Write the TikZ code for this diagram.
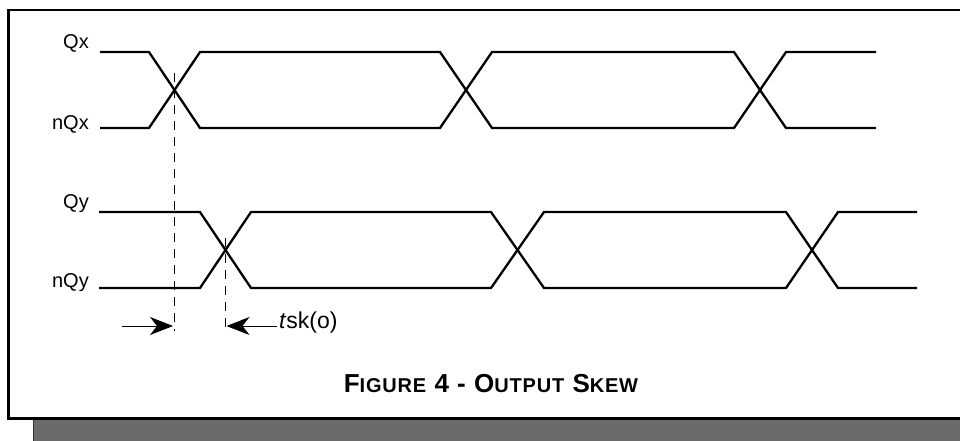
\documentclass[tikz,border=0pt]{standalone}
\usepackage{fontspec}
\setmainfont{Liberation Sans}
\newfontfamily\capfont[LetterSpace=4]{Liberation Sans}
\usetikzlibrary{arrows.meta}
\definecolor{bandgray}{RGB}{107,107,107}
\newcommand{\capsz}[1]{{\fontsize{26}{26}\selectfont #1}}
\newcommand{\smsz}[1]{{\fontsize{20}{20}\selectfont #1}}
\tikzset{
  sig/.style={line width=2.3pt, line join=miter},
  guide/.style={line width=0.9pt, dash pattern=on 9pt off 7pt},
  skarrow/.style={line width=0.9pt, -{Stealth[length=23pt,width=18pt,inset=7pt]}},
  lbl/.style={font=\fontsize{20}{20}\selectfont, inner sep=0pt, anchor=base east},
  frameline/.style={line width=2.2pt}
}
\begin{document}
\begin{tikzpicture}[x=1pt,y=-1pt]
\useasboundingbox (0,0) rectangle (960,440);
% frame and shadow band
\fill[bandgray, draw=black!80, line width=0.8pt] (33,419) rectangle (962,442);
\coordinate (ftr) at (962,10);
\coordinate (ftl) at (8.5,10);
\coordinate (fbl) at (8.5,418.5);
\coordinate (fbr) at (962,418.5);
\draw[frameline, line cap=rect] (ftr) -- (ftl) -- (fbl) -- (fbr);

% labels
\node[lbl] (lQx)  at (89,48)  {Qx};
\node[lbl] (lnQx) at (89,129) {nQx};
\node[lbl] (lQy)  at (89,208) {Qy};
\node[lbl] (lnQy) at (89,287) {nQy};

% Qx / nQx
\draw[sig] (100,52) -- (149,52) -- (200,128) -- (440,128) -- (492,52) -- (734,52) -- (786,128) -- (876,128);
\draw[sig] (100,128) -- (149,128) -- (200,52) -- (440,52) -- (492,128) -- (734,128) -- (786,52) -- (876,52);
% Qy / nQy
\draw[sig] (99,212) -- (200,212) -- (251,288) -- (491,288) -- (544,212) -- (786,212) -- (838,288) -- (917,288);
\draw[sig] (99,288) -- (200,288) -- (251,212) -- (491,212) -- (544,288) -- (786,288) -- (838,212) -- (917,212);

% guide lines
\coordinate (g1t) at (174,73);
\coordinate (g1b) at (174,331);
\coordinate (g2t) at (225.5,238);
\coordinate (g2b) at (225.5,331);
\draw[guide] (g1t) -- (g1b);
\draw[guide] (g2t) -- (g2b);

% skew arrows
\coordinate (a1s) at (122,326);
\coordinate (a1e) at (173,326);
\coordinate (a2s) at (277,326);
\coordinate (a2e) at (226.5,326);
\draw[skarrow] (a1s) -- (a1e);
\draw[skarrow] (a2s) -- (a2e);
\node[font=\fontsize{23}{23}\selectfont, inner sep=0pt, anchor=base west] (tsk) at (279,328) {\textit{t}sk(o)};

% caption
\node[font=\capfont\bfseries\fontsize{26}{26}\selectfont, inner sep=0pt, anchor=base] (cap) at (491,392)
  {\capsz{F}\smsz{IGURE} \capsz{4 - O}\smsz{UTPUT} \capsz{S}\smsz{KEW}};
\end{tikzpicture}
\end{document}
